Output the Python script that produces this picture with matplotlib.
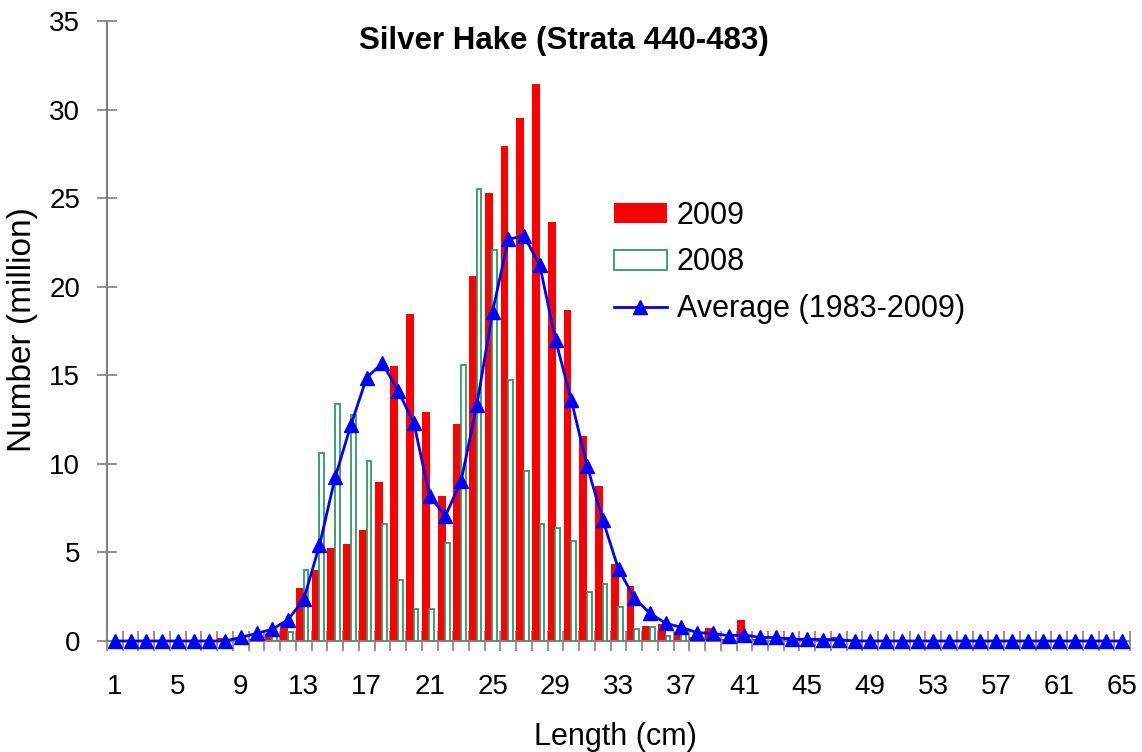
import matplotlib
matplotlib.use("Agg")
import matplotlib.pyplot as plt
import numpy as np
from matplotlib.patches import Patch
from matplotlib.lines import Line2D

plt.rcParams['font.family'] = ['Liberation Sans', 'DejaVu Sans']

lengths = list(range(1, 66))
tick_labels = [str(v) for v in range(1, 66, 4)]

n2009 = [0, 0, 0, 0, 0, 0, 0, 0.15, 0.05, 0.1,
         0.4, 0.9, 3.0, 4.0, 5.25, 5.5, 6.27, 8.96, 15.5, 18.46,
         12.9, 8.2, 12.25, 20.6, 25.3, 27.95, 29.5, 31.45, 23.66, 18.69,
         11.55, 8.75, 4.35, 3.1, 0.85, 0.96, 0.49, 0.2, 0.72, 0.1,
         1.19, 0.1, 0.05, 0.25, 0.05, 0.05, 0.25, 0, 0, 0,
         0, 0, 0, 0, 0, 0, 0, 0, 0, 0,
         0, 0, 0, 0, 0]

n2008 = [0, 0, 0, 0, 0, 0, 0, 0, 0, 0,
         0.3, 0.5, 4.0, 10.6, 13.4, 12.76, 10.18, 6.59, 3.43, 1.83,
         1.83, 5.55, 15.6, 25.54, 22.06, 14.72, 9.62, 6.59, 6.4, 5.66,
         2.74, 3.2, 1.94, 0.7, 0.8, 0.28, 0.4, 0.1, 0.1, 0,
         0, 0, 0, 0, 0, 0, 0, 0, 0, 0,
         0, 0, 0, 0, 0, 0, 0, 0, 0, 0,
         0, 0, 0, 0, 0]

avg = [0, 0, 0, 0, 0, 0, 0, 0, 0.2, 0.43,
       0.66, 1.2, 2.35, 5.4, 9.25, 12.2, 14.87, 15.68, 14.13, 12.29,
       8.19, 7.06, 9.03, 13.33, 18.6, 22.68, 22.87, 21.2, 17.0, 13.6,
       9.9, 6.85, 4.05, 2.45, 1.56, 1.0, 0.77, 0.47, 0.43, 0.3,
       0.34, 0.2, 0.2, 0.1, 0.1, 0.08, 0.08, 0, 0, 0,
       0, 0, 0, 0, 0, 0, 0, 0, 0, 0,
       0, 0, 0, 0, 0]

RED = '#FF0000'
GREEN = '#339966'
BLUE = '#0000FF'
AXC = '#808080'

fig = plt.figure(figsize=(11.42, 7.52), dpi=100)
ax = fig.add_axes([107/1142, 1-641/752, (1130-107)/1142, (641-21)/752])

x = np.array(lengths, dtype=float)
ax.bar(x - 0.24, n2009, width=0.5, color=RED, edgecolor='none', zorder=2)
ax.bar(x + 0.14, n2008, width=0.3, facecolor='white', edgecolor=GREEN, linewidth=1.3, zorder=3)
ax.plot(x, avg, color=BLUE, linewidth=2, marker='^', markersize=10, zorder=4, clip_on=False)

ax.set_xlim(0.5, 65.5)
ax.set_ylim(0, 35)
ax.set_yticks(range(0, 36, 5))
ax.set_xticks(np.arange(0.5, 66, 1), minor=False)
ax.set_xticklabels([])
ax.set_xticks(range(1, 66, 4), minor=True)
ax.set_xticklabels(tick_labels, minor=True)
ax.tick_params(axis='x', which='major', direction='inout', length=15, width=1.2, color=AXC)
ax.tick_params(axis='x', which='minor', length=0, labelsize=20, pad=23.5)
ax.tick_params(axis='y', direction='inout', length=14.5, width=1.2, color=AXC, labelsize=20, pad=12)

for s in ['top', 'right']:
    ax.spines[s].set_visible(False)
for s in ['left', 'bottom']:
    ax.spines[s].set_color(AXC)
    ax.spines[s].set_linewidth(1.5)

fig.text(615/1142, 1-737/752, 'Length (cm)', ha='center', va='center', fontsize=22)
fig.text(22.5/1142, 1-330/752, 'Number (million)', ha='center', va='center',
         rotation=90, fontsize=24)

fig.text(563.5/1142, 1-41/752, 'Silver Hake (Strata 440-483)', ha='center', va='center',
         fontsize=22.5, fontweight='bold')

handles = [Patch(facecolor=RED, edgecolor='none'),
           Patch(facecolor='white', edgecolor=GREEN, linewidth=1.3),
           Line2D([0], [0], color=BLUE, linewidth=2, marker='^', markersize=10)]
fig.legend(handles, ['2009', '2008', 'Average (1983-2009)'], loc='upper left',
           bbox_to_anchor=(614/1142, 1-201/752), frameon=False, fontsize=22,
           handlelength=1.73, handleheight=0.62, handletextpad=0.33, labelspacing=0.54,
           borderpad=0, borderaxespad=0)

fig.savefig('out.png', dpi=100)
